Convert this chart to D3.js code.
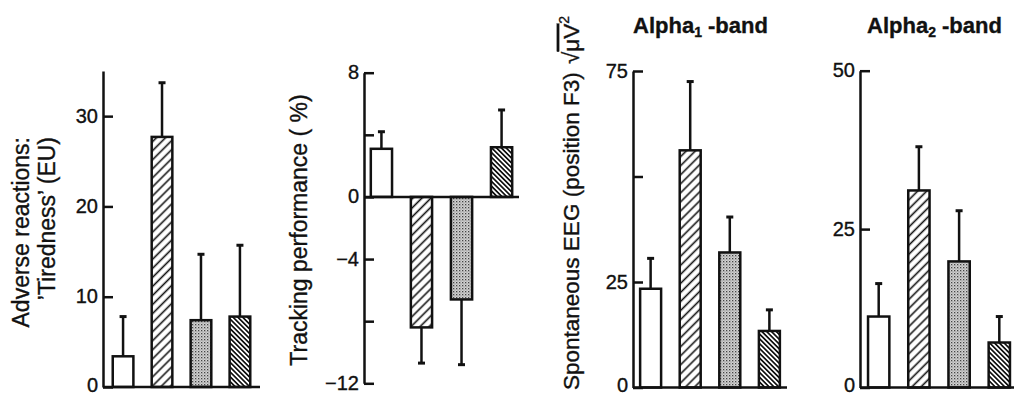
<!DOCTYPE html>
<html>
<head>
<meta charset="utf-8">
<script src="https://cdn.jsdelivr.net/npm/d3@7"></script>
<style>
  body { margin: 0; background: #fff; }
  svg text { font-family: "Liberation Sans", Arial, Helvetica, sans-serif; fill: #111; stroke: #111; stroke-width: 0.35; }
</style>
</head>
<body>
<svg id="chart"></svg>
<script>
// Constants
const width = 1014;
const height = 396;

// Data (four treatment conditions per panel)
const conditions = ["1", "2", "3", "4"];

const tiredness = [3.4, 27.7, 7.4, 7.8];
const tirednessSD = [4.4, 6.0, 7.3, 7.9];
const tirednessTicks = [0, 10, 20, 30];

const tracking = [3.1, -8.4, -6.6, 3.2];
const trackingSD = [1.1, 2.3, 4.2, 2.4];
const trackingTicks = [8, 4, 0, -4, -8, -12];
const trackingLabels = [8, 0, -4, -12];

const alpha1 = [23.4, 56.2, 32.0, 13.4];
const alpha1SD = [7.2, 16.3, 8.4, 5.0];
const alpha1Ticks = [0, 25, 50, 75];
const alpha1Labels = [0, 25, 75];

const alpha2 = [11.2, 31.1, 19.9, 7.1];
const alpha2SD = [5.2, 6.9, 8.0, 4.1];
const alpha2Ticks = [0, 25, 50];

const svg = d3.select("#chart").attr("width", width).attr("height", height);

// Patterns for the four bar fills
const defs = svg.append("defs");

function hatch(id, spacing, angle, lw) {
    const p = defs.append("pattern")
        .attr("id", id)
        .attr("patternUnits", "userSpaceOnUse")
        .attr("width", spacing).attr("height", spacing)
        .attr("patternTransform", `rotate(${angle})`);
    p.append("rect").attr("width", spacing).attr("height", spacing).attr("fill", "#fff");
    p.append("line")
        .attr("x1", spacing / 2).attr("x2", spacing / 2)
        .attr("y1", 0).attr("y2", spacing)
        .attr("stroke", "#111").attr("stroke-width", lw);
}
hatch("hatchWide", 6.4, 45, 1.6);
hatch("hatchDense", 3.4, -45, 1.7);

const stip = defs.append("pattern")
    .attr("id", "stipple")
    .attr("patternUnits", "userSpaceOnUse")
    .attr("width", 3).attr("height", 3);
stip.append("rect").attr("width", 3).attr("height", 3).attr("fill", "#d2d2d2");
stip.append("rect").attr("width", 1.3).attr("height", 1.3).attr("fill", "#444");
stip.append("rect").attr("x", 1.5).attr("y", 1.5).attr("width", 1).attr("height", 1).attr("fill", "#777");

const fills = ["#fff", "url(#hatchWide)", "url(#stipple)", "url(#hatchDense)"];

// Panel layout
const panels = [
    { values: tiredness, sd: tirednessSD, ticks: tirednessTicks, labels: tirednessTicks,
      domain: [0, 35], x0: 103, x1: 260, yTop: 71, yBottom: 387, pad: 0.25 },
    { values: tracking, sd: trackingSD, ticks: trackingTicks, labels: trackingLabels,
      domain: [-12, 8], x0: 364, x1: 519, yTop: 72.7, yBottom: 383.3, pad: 0.17 },
    { values: alpha1, sd: alpha1SD, ticks: alpha1Ticks, labels: alpha1Labels,
      domain: [0, 75], x0: 633, x1: 787, yTop: 71, yBottom: 387.5, pad: 0.18 },
    { values: alpha2, sd: alpha2SD, ticks: alpha2Ticks, labels: alpha2Ticks,
      domain: [0, 50], x0: 860, x1: 1018, yTop: 70.7, yBottom: 387.5, pad: 0.2 }
];

const fmt = d3.format("d");

panels.forEach(p => {
    const y = d3.scaleLinear().domain(p.domain).range([p.yBottom, p.yTop]);
    const x = d3.scaleBand()
        .domain(conditions)
        .range([p.x0, p.x1])
        .paddingInner(0.47)
        .paddingOuter(p.pad);

    const g = svg.append("g");

    // axis with inward ticks
    const ax = g.append("g")
        .attr("transform", `translate(${p.x0},0)`)
        .call(d3.axisLeft(y)
            .tickValues(p.ticks)
            .tickSize(-10)
            .tickSizeOuter(0)
            .tickPadding(5)
            .tickFormat(d => p.labels.includes(d) ? fmt(d) : ""));
    ax.select(".domain").attr("stroke", "#111").attr("stroke-width", 2.5);
    ax.selectAll(".tick line").attr("stroke", "#111").attr("stroke-width", 2.5);
    ax.selectAll(".tick text")
        .attr("font-size", 20)
        .attr("dy", d => d === p.domain[0] && d === 0 ? "0.2em" : "0.3em")
        .attr("font-family", "Liberation Sans, Arial, sans-serif")
        .attr("fill", "#111");

    // error bars
    const data = conditions.map((c, i) => ({ c, v: p.values[i], sd: p.sd[i], fill: fills[i] }));
    const cx = d => x(d.c) + x.bandwidth() / 2;
    const tip = d => y(d.v + (d.v < 0 ? -d.sd : d.sd));

    g.selectAll(".err").data(data).enter().append("line")
        .attr("x1", cx).attr("x2", cx)
        .attr("y1", d => y(d.v)).attr("y2", tip)
        .attr("stroke", "#111").attr("stroke-width", 2.5);
    g.selectAll(".cap").data(data).enter().append("line")
        .attr("x1", d => cx(d) - 3.5).attr("x2", d => cx(d) + 3.5)
        .attr("y1", tip).attr("y2", tip)
        .attr("stroke", "#111").attr("stroke-width", 3);

    // bars
    g.selectAll(".bar").data(data).enter().append("rect")
        .attr("x", d => x(d.c))
        .attr("y", d => y(Math.max(0, d.v)))
        .attr("width", x.bandwidth())
        .attr("height", d => Math.abs(y(d.v) - y(0)))
        .attr("fill", d => d.fill)
        .attr("stroke", "#111")
        .attr("stroke-width", 2.5);

    // zero line
    g.append("line")
        .attr("x1", p.x0).attr("x2", Math.min(p.x1, width))
        .attr("y1", y(0)).attr("y2", y(0))
        .attr("stroke", "#111").attr("stroke-width", 2.5);
});

// Axis titles
function vtext(xc, yc, anchor, size) {
    return svg.append("text")
        .attr("transform", `translate(${xc},${yc}) rotate(-90)`)
        .attr("text-anchor", anchor)
        .attr("dy", "0.35em")
        .attr("font-size", size);
}
vtext(21, 137, "end", 23).text("Adverse reactions:");
vtext(47, 137, "end", 23).text("\u2019Tiredness\u2019 (EU)");
vtext(299, 230, "middle", 23).text("Tracking performance ( %)");

const eeg = vtext(571, 390, "start", 22.5);
eeg.append("tspan").text("Spontaneous EEG (position F3) ");
eeg.append("tspan").attr("dx", 2).text("\u221A");
eeg.append("tspan").style("text-decoration", "overline").text("\u03BCV");
eeg.append("tspan").attr("font-size", 14).attr("dy", "-0.7em").text("2");

// Band titles
function title(x0, sub) {
    const t = svg.append("text")
        .attr("x", x0).attr("y", 33)
        .attr("font-size", 22)
        .attr("font-weight", "bold");
    t.append("tspan").text("Alpha");
    t.append("tspan").attr("font-size", 14).attr("dy", 4).text(sub);
    t.append("tspan").attr("dy", -4).text(" -band");
}
title(633, "1");
title(867, "2");
</script>
</body>
</html>
